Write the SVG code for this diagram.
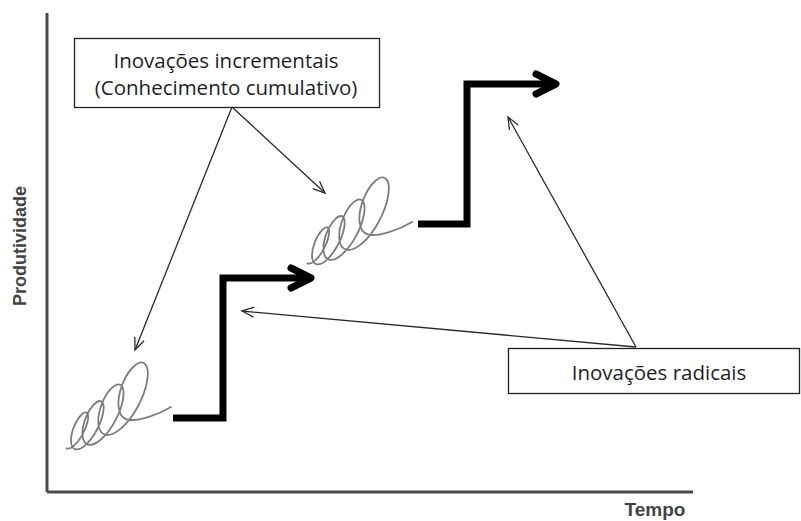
<svg xmlns="http://www.w3.org/2000/svg" width="801" height="521" viewBox="0 0 801 521">
  <style>
    .axis { stroke: #4a4a4a; stroke-width: 3; fill: none; }
    .axis-label { font-family: "Liberation Sans", Arial, sans-serif; font-weight: bold; fill: #444; }
    .box { fill: #fff; stroke: #222; stroke-width: 1.3; }
    .box-text { font-family: "Open Sans", "DejaVu Sans", sans-serif; font-size: 20.5px; fill: #1e1e28; text-anchor: middle; }
    .pointer { stroke: #2a2a2a; stroke-width: 1.3; fill: none; marker-end: url(#chevron); }
    .step { stroke: #000; stroke-width: 7; fill: none; stroke-linejoin: miter; }
    .step-head { stroke: #000; stroke-width: 7; fill: none; stroke-linecap: round; stroke-linejoin: round; }
    .coil { stroke: #7c7c7c; stroke-width: 1.8; fill: none; stroke-linecap: round; }
  </style>
  <defs>
    <marker id="chevron" markerUnits="userSpaceOnUse" markerWidth="16" markerHeight="14" refX="13" refY="6" orient="auto" overflow="visible">
      <path d="M1,1 L13,6 L1,11" fill="none" stroke="#2a2a2a" stroke-width="1.3" stroke-linejoin="miter"/>
    </marker>
    <!-- growing looped coil (cursive-e chain), drawn once and placed twice -->
    <path id="coil-shape" class="coil" d="M66.45,448.37
      C70.14,450.11 76.95,444.38 82.32,434.87
      C87.69,425.36 89.63,415.46 87,413
      C84.37,410.54 78.10,416.58 74.02,426.67
      C69.95,436.77 69.73,447.27 75.05,449.12
      C80.38,450.98 89.48,443.28 96.39,430.8
      C103.30,418.32 105.5,405.51 102,402
      C98.5,398.5 90.59,405.72 85.74,417.85
      C80.90,429.98 81.09,442.60 88.05,444.57
      C95.01,446.54 106.42,436.86 114.87,421.42
      C123.32,405.98 125.77,390.25 121.4,385.7
      C117.03,381.15 107.49,389.55 101.87,403.72
      C96.26,417.89 96.85,432.64 105.45,434.72
      C114.05,436.80 127.75,425.16 137.74,406.75
      C147.73,388.34 150.43,369.69 145.2,364.1
      C139.97,358.51 128.77,368.09 122.39,384.3
      C116.01,400.51 117.02,417.37 127.25,419.57
      C137.48,421.77 158,415 171,407"/>
  </defs>

  <rect width="801" height="521" fill="#fff"/>

  <!-- axes -->
  <g id="axes">
    <line class="axis" x1="47" y1="13" x2="47" y2="492"/>
    <line class="axis" x1="47" y1="492" x2="693" y2="492"/>
    <text class="axis-label" font-size="18" transform="translate(26,246) rotate(-90)" text-anchor="middle">Produtividade</text>
    <text class="axis-label" font-size="19" x="655" y="516" text-anchor="middle">Tempo</text>
  </g>

  <!-- incremental innovation coils -->
  <g id="coil-1">
    <use href="#coil-shape"/>
  </g>
  <g id="coil-2">
    <use href="#coil-shape" transform="translate(241,-185)"/>
  </g>

  <!-- radical innovation steps -->
  <g id="step-1">
    <path class="step" d="M173,418 H223 V278 H309"/>
    <path class="step-head" d="M291,268 L311,278 L291,288"/>
  </g>
  <g id="step-2">
    <path class="step" d="M418,224 H467 V84 H553"/>
    <path class="step-head" d="M536,74 L556,84 L536,94"/>
  </g>

  <!-- label boxes -->
  <g id="label-incremental">
    <rect class="box" x="74.5" y="38.5" width="305" height="69"/>
    <text class="box-text" x="226" y="68">Inovações incrementais</text>
    <text class="box-text" x="226" y="95">(Conhecimento cumulativo)</text>
  </g>
  <g id="label-radical">
    <rect class="box" x="508.5" y="348.5" width="291" height="45"/>
    <text class="box-text" x="659" y="380">Inovações radicais</text>
  </g>

  <!-- pointer connectors -->
  <g id="connectors">
    <line class="pointer" x1="232" y1="107" x2="135" y2="350"/>
    <line class="pointer" x1="232" y1="107" x2="325" y2="193"/>
    <line class="pointer" x1="636" y1="347" x2="242" y2="311"/>
    <line class="pointer" x1="636" y1="347" x2="508" y2="117"/>
  </g>
</svg>
